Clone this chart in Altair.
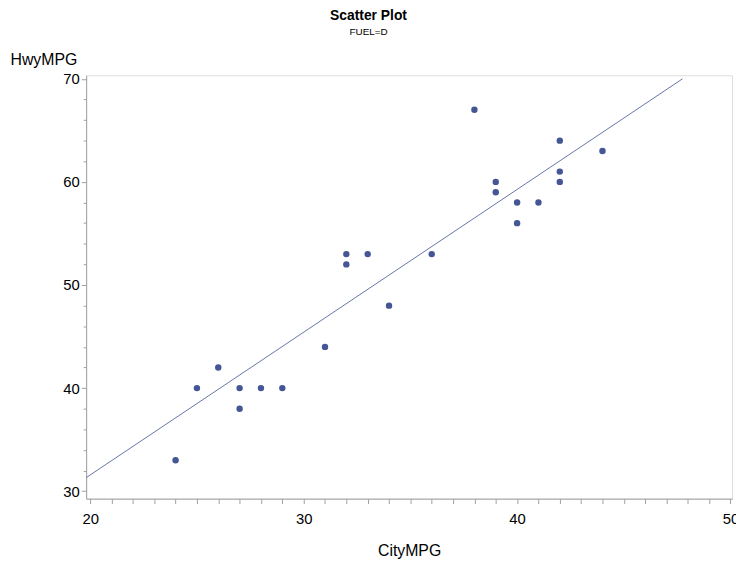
import altair as alt
import pandas as pd

# Data
city_mpg = [24, 25, 26, 27, 27, 28, 29, 31, 32, 32, 33, 34, 36, 38, 39, 39, 40, 40, 41, 42, 42, 42, 44]
hwy_mpg = [33, 40, 42, 40, 38, 40, 40, 44, 53, 52, 53, 48, 53, 67, 60, 59, 58, 56, 58, 64, 61, 60, 63]

# Fitted regression line (endpoints as drawn in the reference)
fit_city = [19.8, 47.75]
fit_hwy = [31.3, 70.0]

x_ticks = list(range(20, 51))
y_ticks = list(range(30, 71, 2))

points = pd.DataFrame({"CityMPG": city_mpg, "HwyMPG": hwy_mpg})
fit = pd.DataFrame({"CityMPG": fit_city, "HwyMPG": fit_hwy})

FONT = "Liberation Sans, Arial, sans-serif"
GRAY = "#a0a0a0"
major_expr = "datum.value % 10 === 0 ? datum.label : ''"

x_scale = alt.Scale(domain=[19.81, 50.07], nice=False, zero=False)
y_scale = alt.Scale(domain=[29.28, 70.34], nice=False, zero=False)

x_axis = alt.Axis(
    values=x_ticks, labelExpr=major_expr, labelOverlap=False, labelFlush=False,
    grid=False, tickSize=5, tickColor=GRAY, domainColor=GRAY,
    labelFont=FONT, labelFontSize=15, labelColor="black", labelPadding=8,
    title="CityMPG", titleFont=FONT, titleFontSize=16, titleFontWeight="normal",
    titleColor="black", titleY=57, titleBaseline="alphabetic",
)
y_axis = alt.Axis(
    values=y_ticks, labelExpr=major_expr, labelOverlap=False,
    grid=False,
    tickSize={"condition": {"test": "datum.value % 10 === 0", "value": 5}, "value": 3},
    tickColor=GRAY, domainColor=GRAY,
    labelFont=FONT, labelFontSize=15, labelColor="black", labelPadding=2,
    title="HwyMPG", titleFont=FONT, titleFontSize=16, titleFontWeight="normal",
    titleColor="black", titleAngle=0, titleAlign="left", titleBaseline="alphabetic",
    titleX=-77, titleY=-11,
)

fit_line = alt.Chart(fit).mark_line(color="#6674a8", strokeWidth=1, clip=True).encode(
    x=alt.X("CityMPG:Q", scale=x_scale, axis=x_axis),
    y=alt.Y("HwyMPG:Q", scale=y_scale, axis=y_axis),
)

dots = alt.Chart(points).mark_circle(size=42, color="#445694", opacity=1).encode(
    x=alt.X("CityMPG:Q", scale=x_scale, axis=x_axis),
    y=alt.Y("HwyMPG:Q", scale=y_scale, axis=y_axis),
)

chart = alt.layer(fit_line, dots).properties(
    width=653,
    height=428,
    autosize=alt.AutoSizeParams(type="none"),
    padding={"left": 79, "top": 65, "right": 4, "bottom": 60},
    title=alt.TitleParams(
        "Scatter Plot", subtitle="FUEL=D",
        font=FONT, fontSize=14, fontWeight="bold", color="black",
        subtitleFont=FONT, subtitleFontSize=10, subtitleColor="black",
        subtitlePadding=4, anchor="middle", dx=-41, offset=15,
    ),
).configure_view(stroke=GRAY, strokeWidth=1).configure(background="white")

chart.save("out.html", embed_options={"renderer": "svg", "actions": False})
